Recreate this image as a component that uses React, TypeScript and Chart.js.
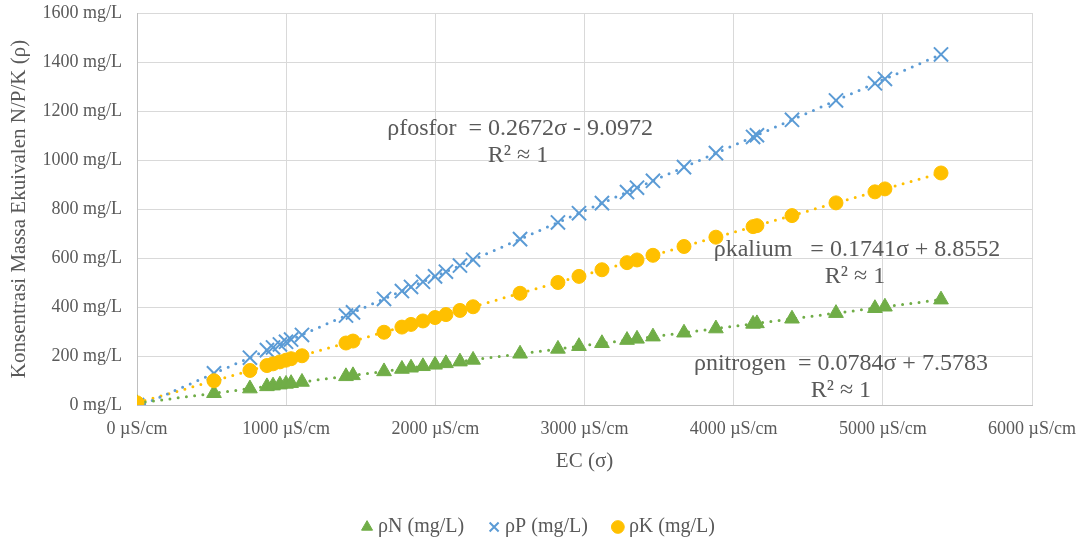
import React, { useEffect, useRef } from 'react';
import { Chart, registerables } from 'chart.js';

Chart.register(...registerables);

// ---- Data ----
const ecValues = [0, 516, 757, 871, 912, 958, 999, 1033, 1106, 1401, 1448, 1656, 1776, 1837, 1917, 1998, 2071, 2165, 2253, 2568, 2822, 2963, 3117, 3285, 3352, 3459, 3667, 3881, 4130, 4156, 4391, 4686, 4947, 5014, 5390];
const nitrogenValues = [7, 48, 67, 76, 79, 83, 86, 89, 94, 117, 121, 137, 147, 152, 158, 164, 170, 177, 184, 209, 229, 240, 252, 265, 270, 279, 295, 312, 331, 333, 352, 375, 395, 401, 430];
const fosforValues = [0, 129, 193, 224, 235, 247, 258, 267, 286, 365, 378, 433, 465, 482, 503, 525, 544, 569, 593, 677, 745, 783, 824, 869, 887, 915, 971, 1028, 1094, 1101, 1164, 1243, 1313, 1331, 1431];
const kaliumValues = [9, 99, 141, 161, 168, 176, 183, 189, 201, 253, 261, 297, 318, 329, 343, 357, 369, 386, 401, 456, 500, 525, 552, 581, 592, 611, 647, 685, 728, 732, 773, 825, 870, 882, 947];

// trendline end points (x range of the data)
const trendX = [0, 5390];
const trendNitrogen = [7.58, 430.2];
const trendFosfor = [-9.1, 1431];
const trendKalium = [8.86, 947.3];

const seriesLabels = ['ρN (mg/L)', 'ρP (mg/L)', 'ρK (mg/L)'];
const xTickUnit = 'µS/cm';
const yTickUnit = 'mg/L';
const xTitle = 'EC (σ)';
const yTitle = 'Konsentrasi Massa Ekuivalen N/P/K (ρ)';

const equationTexts = [
  'ρfosfor  = 0.2672σ - 9.0972',
  'R² ≈ 1',
  'ρkalium   = 0.1741σ + 8.8552',
  'R² ≈ 1',
  'ρnitrogen  = 0.0784σ + 7.5783',
  'R² ≈ 1',
];
// anchor (data coordinates) of each equation line
const equationX = [2568, 2554, 4827, 4813, 4719, 4719];
const equationY = [1129, 1016, 633, 522, 167, 57];

const GREEN = '#70AD47';
const BLUE = '#5B9BD5';
const YELLOW = '#FFC000';
const TEXT = '#595959';
const GRID = '#D9D9D9';
const FONT = '"Liberation Serif", "Times New Roman", serif';

const toPoints = (xs: number[], ys: number[]) => xs.map((x, i) => ({ x, y: ys[i] }));

const equationPlugin = {
  id: 'equationLabels',
  afterDatasetsDraw(chart: any) {
    const { ctx, scales } = chart;
    const xs = scales.x;
    const ys = scales.y;
    ctx.save();
    ctx.font = `24px ${FONT}`;
    ctx.fillStyle = TEXT;
    ctx.textAlign = 'center';
    ctx.textBaseline = 'middle';
    equationTexts.forEach((t, i) => {
      ctx.fillText(t, xs.getPixelForValue(equationX[i]), ys.getPixelForValue(equationY[i]));
    });
    ctx.restore();
  },
};

const trendStyle = (color: string) => ({
  type: 'scatter' as const,
  showLine: true,
  borderColor: color,
  backgroundColor: color,
  borderWidth: 3,
  borderDash: [0, 8.3],
  borderCapStyle: 'round' as const,
  pointRadius: 0,
  pointHoverRadius: 0,
  fill: false,
});

export default function App() {
  const canvasRef = useRef<HTMLCanvasElement | null>(null);

  useEffect(() => {
    document.body.style.margin = '0';
    const canvas = canvasRef.current;
    if (!canvas) return;
    Chart.defaults.font.family = FONT;
    Chart.defaults.color = TEXT;

    const chart = new Chart(canvas, {
      type: 'scatter',
      data: {
        datasets: [
          {
            label: seriesLabels[0],
            data: toPoints(ecValues, nitrogenValues),
            pointStyle: 'triangle',
            pointRadius: 8.5,
            pointHoverRadius: 8.5,
            backgroundColor: GREEN,
            borderColor: GREEN,
            pointBorderWidth: 1,
            order: 3,
          },
          {
            label: seriesLabels[1],
            data: toPoints(ecValues, fosforValues),
            pointStyle: 'crossRot',
            pointRadius: 10,
            pointHoverRadius: 10,
            backgroundColor: BLUE,
            borderColor: BLUE,
            pointBorderWidth: 2,
            order: 2,
          },
          {
            label: seriesLabels[2],
            data: toPoints(ecValues, kaliumValues),
            pointStyle: 'circle',
            pointRadius: 7,
            pointHoverRadius: 7,
            backgroundColor: YELLOW,
            borderColor: YELLOW,
            pointBorderWidth: 1,
            order: 1,
          },
          { ...trendStyle(GREEN), data: toPoints(trendX, trendNitrogen), order: 10 } as any,
          { ...trendStyle(BLUE), data: toPoints(trendX, trendFosfor), order: 11 } as any,
          { ...trendStyle(YELLOW), data: toPoints(trendX, trendKalium), order: 12 } as any,
        ],
      },
      options: {
        responsive: false,
        animation: false,
        devicePixelRatio: 1,
        layout: { padding: { left: 0, right: 0, top: 13, bottom: -8 } },
        plugins: {
          tooltip: { enabled: false },
          legend: {
            position: 'bottom',
            labels: {
              usePointStyle: true,
              boxWidth: 2,
              boxHeight: 9,
              padding: 29,
              color: TEXT,
              font: { size: 20, family: FONT },
              filter: (item: any) => !!item.text,
              sort: (a: any, b: any) => a.datasetIndex - b.datasetIndex,
            },
          },
        },
        scales: {
          x: {
            type: 'linear',
            min: 0,
            max: 6000,
            grid: { color: GRID, lineWidth: 1, drawTicks: false },
            border: { color: '#BFBFBF', width: 1 },
            ticks: {
              stepSize: 1000,
              padding: 13,
              color: TEXT,
              font: { size: 18, family: FONT },
              maxRotation: 0,
              callback: (v: any) => `${v} ${xTickUnit}`,
            },
            title: {
              display: true,
              text: xTitle,
              color: TEXT,
              font: { size: 21, family: FONT },
              padding: { top: 0, bottom: 14 },
            },
            afterFit: (s: any) => {
              s.height = 83;
              s.paddingLeft = 0;
              s.paddingRight = 0;
            },
          },
          y: {
            type: 'linear',
            min: 0,
            max: 1600,
            grid: { color: GRID, lineWidth: 1, drawTicks: false },
            border: { color: '#BFBFBF', width: 1 },
            ticks: {
              stepSize: 200,
              padding: 15,
              color: TEXT,
              font: { size: 18, family: FONT },
              callback: (v: any) => `${v} ${yTickUnit}`,
            },
            title: {
              display: true,
              text: yTitle,
              color: TEXT,
              font: { size: 21, family: FONT },
              padding: { top: 7, bottom: 0 },
            },
            afterFit: (s: any) => {
              s.width = 137;
              s.paddingTop = 0;
              s.paddingBottom = 0;
            },
          },
          y2: {
            type: 'linear',
            position: 'right',
            display: true,
            grid: { display: false, drawTicks: false },
            border: { display: false },
            ticks: { display: false },
            afterFit: (s: any) => {
              s.width = 49;
              s.paddingTop = 0;
              s.paddingBottom = 0;
            },
          },
        },
      },
      plugins: [equationPlugin],
    } as any);

    return () => {
      chart.destroy();
    };
  }, []);

  return (
    <div style={{ width: 1081, height: 539 }}>
      <canvas ref={canvasRef} width={1081} height={539} style={{ display: 'block', width: 1081, height: 539 }} />
    </div>
  );
}
